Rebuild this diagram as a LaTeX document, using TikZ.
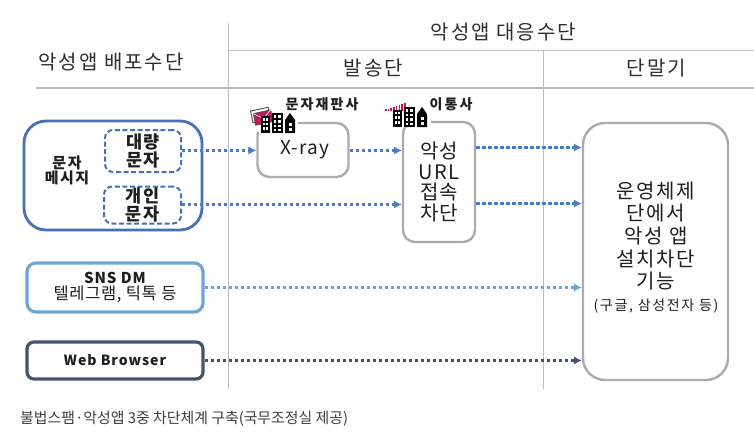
\documentclass[tikz,border=0pt]{standalone}
\usepackage{fontspec}
\setmainfont{Noto Sans CJK KR}
\usetikzlibrary{arrows.meta}
\definecolor{blueA}{HTML}{4472B8}
\definecolor{blueD}{HTML}{4C7CC6}
\definecolor{blueB}{HTML}{6FA4D6}
\definecolor{navyC}{HTML}{44546A}
\definecolor{grayB}{HTML}{ABABAB}
\definecolor{grayL}{HTML}{BDBDBD}
\definecolor{crim}{HTML}{C2185B}
\newcommand{\fs}[3]{\fontsize{#1}{#2}\selectfont\addfontfeature{LetterSpace=#3}}
\tikzset{
 box/.style={draw,rounded corners=#1,inner sep=0pt,align=center,text=black!88},
 box/.default=11pt,
 sz/.style 2 args={minimum width=#1pt,minimum height=#2pt},
 flow/.style={color=#1,line width=2.6pt,dash pattern=on 3.4pt off 2.6pt,-{Latex[length=8pt,width=8.5pt,#1]}},
 rule/.style={draw=grayL,line width=.9pt},
 head/.style={font=\fs{20}{22}{10},inner sep=0pt,text=black!82},
 icolabel/.style={font=\bfseries\fs{14}{16}{15},inner sep=0pt,text=black!88},
}
\newcommand{\cityicon}[2]{%
 \begin{scope}[shift={(#1,#2)}]
  \fill[black] (0,3) rectangle (9,20);
  \fill[black] (11,0) rectangle (22,20);
  \fill[black] (24,7) -- (29,0) -- (34,7) -- (34,20) -- (24,20) -- cycle;
  \foreach \x in {1.5,5}\foreach \y in {5,9.5,14}\fill[white] (\x,\y) rectangle ++(2.3,2.5);
  \foreach \x in {12.5,17}\foreach \y in {2.5,7,11.5,15.5}\fill[white] (\x,\y) rectangle ++(2.8,2.5);
  \foreach \y in {10,15}\fill[white] (28,\y) rectangle ++(2.6,2.5);
 \end{scope}}
\begin{document}
\begin{tikzpicture}[x=1pt,y=-1pt]
\useasboundingbox (0,0) rectangle (754,441);
\fill[white] (0,0) rectangle (754,441);
% grid rules
\coordinate (vaT) at (228,23); \coordinate (vaB) at (228,389);
\coordinate (vbT) at (543,50); \coordinate (vbB) at (543,389);
\coordinate (h1L) at (228,50); \coordinate (h1R) at (754,50);
\coordinate (h2L) at (36,88); \coordinate (h2R) at (754,88);
\draw[rule] (vaT) -- (vaB);
\draw[rule] (vbT) -- (vbB);
\draw[rule] (h1L) -- (h1R);
\draw[rule,line width=1.2pt] (h2L) -- (h2R);
% headings
\node[head] (hDist) at (111,62) {악성앱 배포수단};
\node[head] (hResp) at (503.5,32) {악성앱 대응수단};
\node[head] (hSend) at (373.5,67.5) {발송단};
\node[head] (hTerm) at (656.5,68) {단말기};
% source boxes
\node[box=22pt,draw=blueA,line width=2.8pt,sz={178}{109}] (msg) at (113,175.5) {};
\node[inner sep=0pt,align=center,text=black!88,font=\bfseries\fs{15}{15}{10}] (msgT) at (67,170) {문자\\메시지};
\node[box=8pt,draw=blueA,line width=2pt,dash pattern=on 5pt off 2.6pt,sz={76}{42},font=\bfseries\fs{17.5}{18.5}{6}] (bulk) at (143,151) {대량\\문자};
\node[box=8pt,draw=blueA,line width=2pt,dash pattern=on 5pt off 2.6pt,sz={77}{37},font=\bfseries\fs{17.5}{18}{6}] (pers) at (142.5,205) {개인\\문자};
\node[box=9pt,draw=blueB,line width=3.2pt,sz={176}{49},font=\bfseries\fs{15}{15}{6}] (sns) at (115,287.5) {SNS DM\\[.5pt]{\mdseries\fs{16.5}{15}{4}텔레그램, 틱톡 등}};
\node[box=7pt,draw=navyC,line width=3.2pt,sz={176}{37},font=\bfseries\fs{14}{16}{7}] (web) at (115,360.5) {Web Browser};
% filter boxes
\node[box=12pt,draw=grayB,line width=2.4pt,sz={91}{54},font=\fs{19}{20}{6}] (xray) at (303,150) {\hspace{3pt}X-ray};
\node[box=12pt,draw=grayB,line width=2.4pt,sz={72}{120},font=\fs{20}{20.5}{6}] (url) at (439,182) {악성\\URL\\접속\\차단};
\node[box=22pt,draw=grayB,line width=2.4pt,sz={145}{257}] (os) at (655.5,251.5) {};
\node[font=\fs{20}{22.7}{8},align=center,inner sep=0pt,text=black!88] (osT) at (656,236) {운영체제\\단에서\\악성 앱\\설치차단\\기능};
\node[font=\fs{14}{16}{12},inner sep=0pt,text=black!88] (osS) at (656,306.5) {(구글, 삼성전자 등)};
% flows
\coordinate (b1) at (bulk.east |- 0,150.5);
\draw[flow=blueD] (b1) -- (xray.west |- b1);
\coordinate (x1) at (xray.east |- 0,150.5);
\draw[flow=blueD] (x1) -- (url.west |- x1);
\coordinate (p1) at (pers.east |- 0,204.5);
\draw[flow=blueD] (p1) -- (url.west |- p1);
\coordinate (o1) at (os.west |- 0,147.5);
\coordinate (u1) at (url.east |- 0,147.5);
\coordinate (o2) at (os.west |- 0,203.5);
\coordinate (u2) at (url.east |- 0,203.5);
\draw[flow=blueD] (u1) -- (o1);
\draw[flow=blueD] (u2) -- (o2);
\draw[flow=blueB] (sns.east) -- (os.west |- sns.east);
\draw[flow=navyC] (web.east) -- (os.west |- web.east);
% operator labels and icons
\fill[white] (250,108) rectangle (298,132);
\fill[white] (384,102) rectangle (431,126);
\node[icolabel] (opA) at (322,104) {문자재판사};
\node[icolabel] (opB) at (451,104) {이통사};
\begin{scope}[rotate around={12:(261,117)}]
 \fill[white,draw=black!70,line width=.9pt] (252,109) rectangle (270,121);
 \fill[crim,draw=black!70,line width=.5pt] (254,112) rectangle (272,124);
 \draw[white,line width=.6pt] (254,112) -- (263,119) -- (272,112);
\end{scope}
\cityicon{261}{113}
\foreach \i/\h in {0/1.5,1/2,2/3,3/3.5,4/4.5,5/5.5,6/6.5,7/8}
  \fill[crim] (385+\i*2.7,111-\h) rectangle ++(1.6,\h);
\cityicon{393}{107}
% caption
\node[anchor=west,inner sep=0pt,text=black!75,font=\fontsize{14.9}{16}\selectfont] (cap) at (20,419) {불법스팸·악성앱 3중 차단체계 구축(국무조정실 제공)};
\end{tikzpicture}
\end{document}
